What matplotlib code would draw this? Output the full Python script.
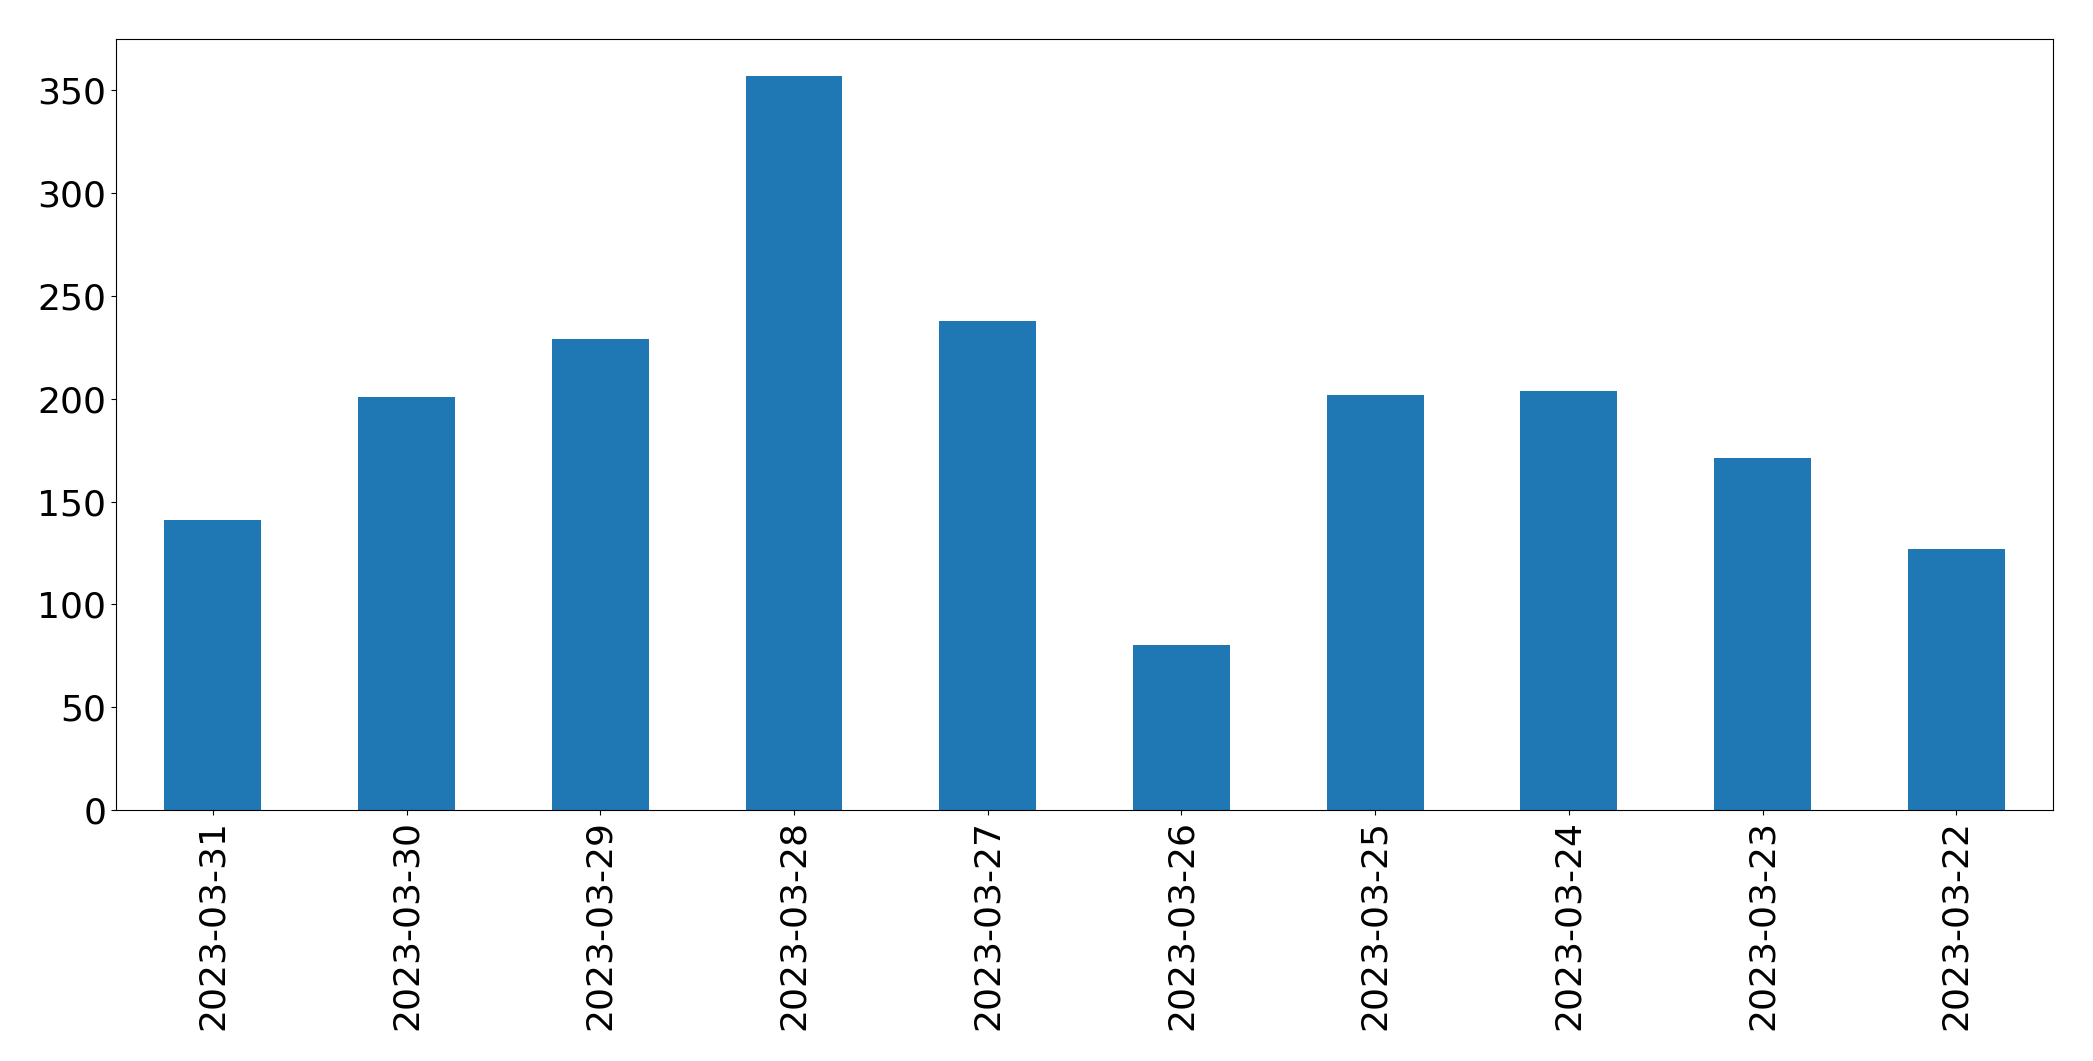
import matplotlib
matplotlib.use("Agg")
import matplotlib.pyplot as plt
import numpy as np

# daily counts, in the order shown
dates = ["2023-03-31", "2023-03-30", "2023-03-29", "2023-03-28", "2023-03-27",
         "2023-03-26", "2023-03-25", "2023-03-24", "2023-03-23", "2023-03-22"]
counts = [141, 201, 229, 357, 238, 80, 202, 204, 171, 127]

fig = plt.figure(figsize=(20.93, 10.61), dpi=100)
ax = fig.add_axes([0.0554, 0.2366, 0.9256, 0.7264])

x = np.arange(len(dates))
ax.bar(x, counts, width=0.5, color="#1f77b4")
ax.set_xticks(x)
ax.set_xticklabels(dates, rotation=90)
ax.set_xlim(-0.5, len(dates) - 0.5)
ax.tick_params(axis="both", labelsize=26)

fig.savefig("out.png", dpi=100)
